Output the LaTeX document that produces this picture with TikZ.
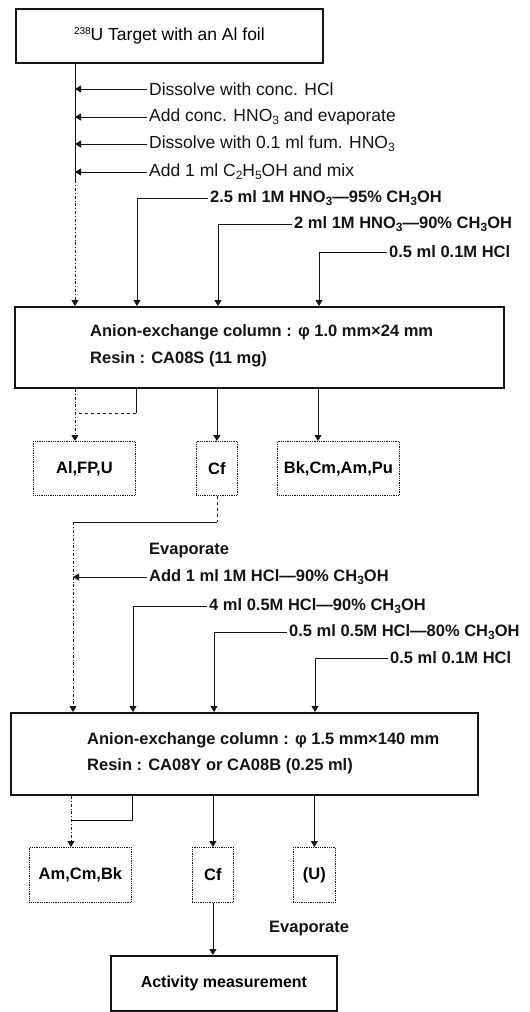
\documentclass[tikz,border=0pt]{standalone}
\usepackage{fontspec}
\setmainfont{Liberation Sans}
\usepackage{tikz}
\usetikzlibrary{arrows.meta}
\definecolor{inkcolor}{RGB}{20,20,20}
\newcommand{\lowidx}[1]{\raisebox{-0.35ex}{\fontsize{12}{12}\selectfont #1}}
\newcommand{\highidx}[1]{\raisebox{0.6ex}{\fontsize{10}{10}\selectfont #1}}

\begin{document}
\begin{tikzpicture}[x=1pt, y=-1pt,
  stepline/.style={inkcolor, line width=0.8pt},
  feed/.style={stepline, -{Triangle[length=6pt,width=7pt]}},
  colbox/.style={draw=inkcolor, line width=1.8pt, anchor=north west, inner sep=0pt},
  fracbox/.style={draw=inkcolor, densely dotted, line width=0.8pt, anchor=north west, inner sep=0pt, font=\fontsize{16.5}{20}\selectfont\bfseries},
  reagent/.style={anchor=west, inner sep=2pt, text=inkcolor, font=\fontsize{17.5}{20}\selectfont},
  eluent/.style={reagent, font=\fontsize{16.5}{20}\selectfont\bfseries},
  coltext/.style={anchor=west, inner sep=0pt, align=left, text=inkcolor, font=\fontsize{16.5}{26.5}\selectfont\bfseries}]

\useasboundingbox (0,0) rectangle (530,1012);

% 1. TARGET & DISSOLUTION
\node[colbox, minimum width=307pt, minimum height=54pt, font=\fontsize{17.5}{20}\selectfont] (target) at (15,8) {\highidx{238}U Target with an Al foil};
\node[reagent] (dis1) at (147,89) {Dissolve with conc. HCl};
\node[reagent] (dis2) at (147,117) {Add conc. HNO\lowidx{3} and evaporate};
\node[reagent] (dis3) at (147,144) {Dissolve with 0.1 ml fum. HNO\lowidx{3}};
\node[reagent] (dis4) at (147,172) {Add 1 ml C\lowidx{2}H\lowidx{5}OH and mix};
\coordinate (spineA) at (75,180);
\draw[stepline] (target.south -| spineA) -- (spineA);
\draw[feed] (dis1.west) -- (dis1.west -| spineA);
\draw[feed] (dis2.west) -- (dis2.west -| spineA);
\draw[feed] (dis3.west) -- (dis3.west -| spineA);
\draw[feed] (dis4.west) -- (dis4.west -| spineA);

% 2. FIRST COLUMN
\node[colbox, minimum width=489pt, minimum height=81pt] (col1) at (14,306) {};
\node[coltext] (col1txt) at (90,346) {Anion-exchange column : φ 1.0 mm×24 mm\\Resin : CA08S (11 mg)};
\draw[feed, dash dot] (spineA) -- (spineA |- col1.north);

% Eluents
\node[eluent] (elu1) at (208,198) {2.5 ml 1M HNO\lowidx{3}—95\% CH\lowidx{3}OH};
\node[eluent] (elu2) at (292,224) {2 ml 1M HNO\lowidx{3}—90\% CH\lowidx{3}OH};
\node[eluent] (elu3) at (387,252) {0.5 ml 0.1M HCl};
\coordinate (dropA) at (137,306);
\coordinate (dropB) at (218,306);
\coordinate (dropC) at (319,306);
\draw[feed] (elu1.west) -| (dropA);
\draw[feed] (elu2.west) -| (dropB);
\draw[feed] (elu3.west) -| (dropC);

% Fractions
\node[fracbox, minimum width=102pt, minimum height=54pt] (alfpu) at (33,441) {Al,FP,U};
\node[fracbox, minimum width=41pt, minimum height=54pt] (cf1) at (196,441) {Cf};
\node[fracbox, minimum width=122pt, minimum height=54pt] (bkcm) at (277,441) {Bk,Cm,Am,Pu};
\coordinate (cutA) at (136,413);
\coordinate (tapB) at (318,441);
\draw[feed, dash dot] (col1.south -| spineA) -- (spineA |- alfpu.north);
\draw[stepline] (col1.south -| cutA) -- (cutA);
\draw[stepline, dashed] (cutA) -- (cutA -| spineA);
\draw[feed] (col1.south -| cf1.north) -- (cf1.north);
\draw[feed] (col1.south -| tapB) -- (tapB);

% 3. SECOND COLUMN
\coordinate (bendB) at (73,522);
\draw[stepline, dashed] (cf1.south) -- (cf1.south |- bendB);
\draw[stepline] (cf1.south |- bendB) -- (bendB);
\node[eluent] (evap1) at (147,551) {Evaporate};
\node[eluent] (hcl1) at (147,577) {Add 1 ml 1M HCl—90\% CH\lowidx{3}OH};
\node[eluent] (hcl2) at (207,606) {4 ml 0.5M HCl—90\% CH\lowidx{3}OH};
\node[eluent] (hcl3) at (287,632) {0.5 ml 0.5M HCl—80\% CH\lowidx{3}OH};
\node[eluent] (hcl4) at (388,658) {0.5 ml 0.1M HCl};

\node[colbox, minimum width=467pt, minimum height=82pt] (col2) at (10,712) {};
\node[coltext] (col2txt) at (87,753) {Anion-exchange column : φ 1.5 mm×140 mm\\Resin : CA08Y or CA08B (0.25 ml)};
\draw[feed, dash dot] (bendB) -- (bendB |- col2.north);
\draw[feed] (hcl1.west) -- (hcl1.west -| bendB);
\coordinate (dropD) at (133,712);
\coordinate (dropE) at (214,712);
\coordinate (dropF) at (315,712);
\draw[feed] (hcl2.west) -| (dropD);
\draw[feed] (hcl3.west) -| (dropE);
\draw[feed] (hcl4.west) -| (dropF);

% Fractions
\node[fracbox, minimum width=102pt, minimum height=55pt] (amcm) at (29,847) {Am,Cm,Bk};
\node[fracbox, minimum width=41pt, minimum height=55pt] (cf2) at (192,847) {Cf};
\node[fracbox, minimum width=42pt, minimum height=55pt] (uran) at (293,847) {(U)};
\coordinate (spineC) at (71,847);
\coordinate (cutC) at (132,820);
\draw[feed, dash dot] (col2.south -| spineC) -- (spineC);
\draw[stepline] (col2.south -| cutC) -- (cutC) -- (cutC -| spineC);
\draw[feed] (col2.south -| cf2.north) -- (cf2.north);
\draw[feed] (col2.south -| uran.north) -- (uran.north);

% 4. MEASUREMENT
\node[eluent] (evap2) at (267,929) {Evaporate};
\node[colbox, minimum width=226pt, minimum height=55pt, font=\fontsize{16}{18}\selectfont\bfseries] (activity) at (110,955) {Activity measurement};
\draw[feed] (cf2.south) -- (cf2.south |- activity.north);

\end{tikzpicture}
\end{document}
